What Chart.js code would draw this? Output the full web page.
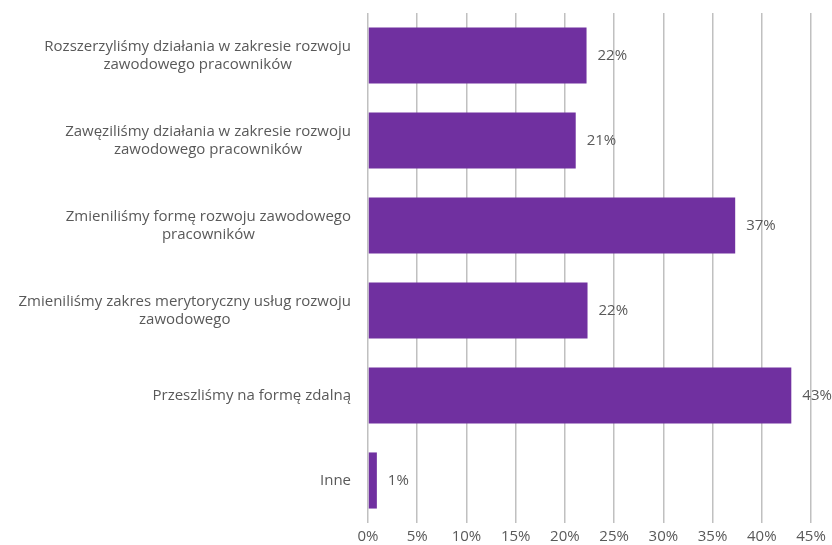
<!DOCTYPE html>
<html>
<head>
<meta charset="utf-8">
<script src="https://cdn.jsdelivr.net/npm/chart.js@4"></script>
<style>
  html, body { margin: 0; padding: 0; background: #fff; }
  #wrap { width: 832px; height: 545px; }
</style>
</head>
<body>
<div id="wrap"><canvas id="chart"></canvas></div>
<script>
// kategorie (etykiety wieloliniowe) i wartości w %
var categories = [
  ['Rozszerzyliśmy działania w zakresie rozwoju', 'zawodowego pracowników'],
  ['Zawęziliśmy działania w zakresie rozwoju', 'zawodowego pracowników'],
  ['Zmieniliśmy formę rozwoju zawodowego', 'pracowników'],
  ['Zmieniliśmy zakres merytoryczny usług rozwoju', 'zawodowego'],
  ['Przeszliśmy na formę zdalną'],
  ['Inne']
];
var values = [22.2, 21.1, 37.3, 22.3, 43.0, 0.9];
var xTicks = [0, 5, 10, 15, 20, 25, 30, 35, 40, 45];

var FONT = '"Open Sans", sans-serif';
var TEXT = '#595959';
var SIZE = 15;

// etykiety osi Y: blok wyrównany do prawej, linie wyśrodkowane
var yLabels = {
  id: 'yLabels',
  afterDraw: function (chart) {
    var ctx = chart.ctx;
    var ys = chart.scales.y;
    ctx.save();
    ctx.font = SIZE + 'px ' + FONT;
    ctx.fillStyle = TEXT;
    ctx.textAlign = 'center';
    ctx.textBaseline = 'middle';
    categories.forEach(function (lines, i) {
      var y = ys.getPixelForTick(i);
      var w = 0;
      lines.forEach(function (l) { w = Math.max(w, ctx.measureText(l).width); });
      var cx = 351 - w / 2;
      var lh = 18;
      var y0 = y - (lines.length - 1) * lh / 2;
      lines.forEach(function (l, k) { ctx.fillText(l, cx, y0 + k * lh); });
    });
    ctx.restore();
  }
};

// etykiety wartości za słupkami
var valueLabels = {
  id: 'valueLabels',
  afterDatasetsDraw: function (chart) {
    var ctx = chart.ctx;
    var meta = chart.getDatasetMeta(0);
    ctx.save();
    ctx.font = SIZE + 'px ' + FONT;
    ctx.fillStyle = TEXT;
    ctx.textAlign = 'left';
    ctx.textBaseline = 'middle';
    meta.data.forEach(function (bar, i) {
      ctx.fillText(Math.round(values[i]) + '%', bar.x + 11, bar.y);
    });
    ctx.restore();
  }
};

var chart = new Chart(document.getElementById('chart'), {
  type: 'bar',
  data: {
    labels: categories,
    datasets: [{
      data: values,
      backgroundColor: '#7030A0',
      borderWidth: 0,
      categoryPercentage: 1,
      barPercentage: 0.66
    }]
  },
  options: {
    indexAxis: 'y',
    responsive: true,
    maintainAspectRatio: false,
    animation: false,
    layout: { padding: { top: 13, right: 21, left: 0, bottom: 0 } },
    plugins: { legend: { display: false }, tooltip: { enabled: false } },
    scales: {
      x: {
        min: 0,
        max: 45,
        afterBuildTicks: function (scale) {
          scale.ticks = xTicks.map(function (v) { return { value: v }; });
        },
        afterFit: function (scale) { scale.height = 22; },
        grid: { color: '#c0c0c0', lineWidth: 1.5, drawTicks: false },
        border: { display: false },
        ticks: {
          padding: 5,
          color: TEXT,
          font: { family: FONT, size: SIZE },
          callback: function (v) { return v + '%'; }
        }
      },
      y: {
        grid: { display: false },
        border: { display: false },
        ticks: { display: false },
        afterFit: function (scale) { scale.width = 368; }
      }
    }
  },
  plugins: [yLabels, valueLabels]
});
</script>
</body>
</html>
